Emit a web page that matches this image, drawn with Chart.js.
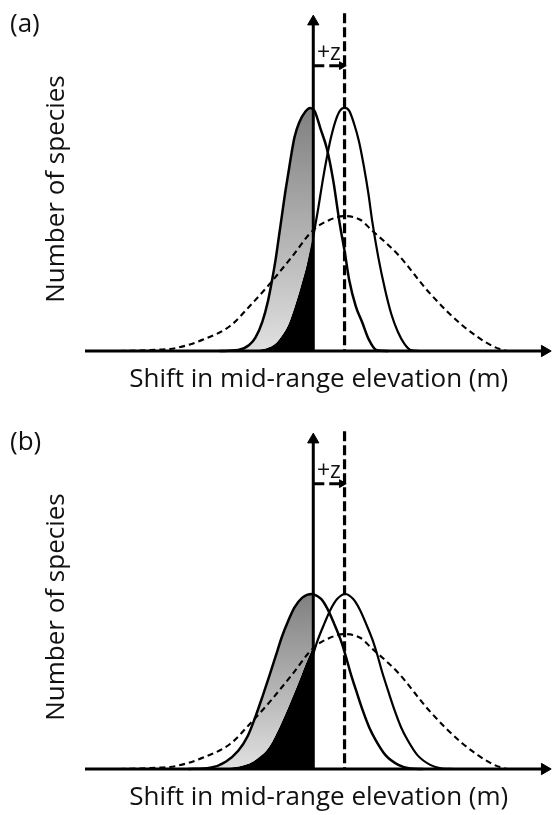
<!DOCTYPE html>
<html><head><meta charset="utf-8">
<script src="https://cdn.jsdelivr.net/npm/chart.js@4.4.1/dist/chart.umd.min.js"></script>
<style>
html,body{margin:0;padding:0;background:#fff;overflow:hidden;}
#wrap{position:relative;width:560px;height:815px;}
canvas{position:absolute;left:0;}
</style></head><body>
<div id="wrap">
<canvas id="chartA" width="560" height="417" style="top:0;width:560px;height:417px"></canvas>
<canvas id="chartB" width="560" height="397" style="top:418px;width:560px;height:397px"></canvas>
</div>
<script>
// ---------- texts ----------
const panelLabels = ['(a)', '(b)'];
const xTitle = 'Shift in mid-range elevation (m)';
const yTitle = 'Number of species';
const zLabel = '+z';

// ---------- shift z and axis extents (data units) ----------
const shiftZ = 10;
const axisXRange = [-73, 74];
const axisYTop = 135.5;
const zLineTop = 139;
const zArrowY = 117.4;
const zArrowEnd = 9.1;
const zLabelY = 119.6;

// ---------- dashed curve (same in both panels) ----------
const dashedX = [-62, -52, -44, -35, -26.5, -20.3, -14, -7, 0, 5, 10, 15, 18.6, 27, 37.3, 47.8, 58, 62];
const dashedY = [0, 0.4, 1.2, 4.8, 10.4, 18.5, 27.5, 38.5, 49.8, 53.8, 55.5, 54, 49.8, 39.8, 23.7, 10.4, 1.6, 0];

// ---------- panel (a) ----------
const aLeftX = [-30, -24, -20.5, -18.5, -16.3, -14.5, -13.2, -12, -11, -10, -9, -8, -7, -6, -4.5, -2.5, -1, 0, 0.5, 2.3, 4.4, 6.4, 8.5, 10, 11.5, 13.6, 15.7, 17.7, 20.3, 24];
const aLeftY = [0, 0.4, 2.5, 5.5, 12, 20.5, 29, 38, 47, 56, 65, 73, 81, 88, 94, 98.5, 100, 99.3, 98.5, 91.5, 83, 70, 52, 41.2, 29.1, 18.4, 11.6, 4.9, 0.3, 0];
const aRightX = [-14, -11, -9, -7, -5, -3, -1, 0, 1.5, 3, 4.4, 5.7, 7.2, 8.5, 10, 11.5, 13.1, 14.6, 16.1, 17.6, 18.9, 20.8, 23, 25, 27, 29.1, 31.1, 34];
const aRightY = [0, 0.5, 3, 8.5, 16, 26.5, 40, 47, 58, 70, 80, 88, 95, 98.8, 100, 98.8, 93.3, 86.3, 76.5, 65, 53, 38.5, 25, 15, 8, 3, 0.4, 0];
const aInnerX = [-30, -20, -16, -14, -12, -10, -8, -6, -4, -2, 0];
const aInnerY = [0, 0.2, 0.8, 1.6, 3.2, 6.4, 10.8, 18, 26.5, 36, 47.8];

// ---------- panel (b) ----------
const bLeftX = [-40, -33, -28, -24, -21, -18.5, -16.2, -14, -12, -10, -8, -6, -3.5, -0.5, 0, 2.5, 4.5, 6.6, 8.7, 10.2, 11.8, 13.8, 15.9, 17.9, 20, 23.1, 27.2, 31, 35];
const bLeftY = [0, 0.5, 3, 7.5, 13.5, 21.5, 30, 38.5, 46.5, 54.5, 61, 66.5, 70.5, 72, 71.9, 70, 66, 60, 53.3, 47.3, 40, 31.9, 23.8, 17.1, 11.8, 5.7, 1.7, 0.2, 0];
const bRightX = [-21, -17, -13, -9.8, -7.7, -5.7, -3.6, -1.6, 0, 1.5, 3.6, 5.7, 7.7, 10.2, 12.7, 14.7, 16.8, 18.9, 20.4, 22, 24, 26.1, 28.1, 30.2, 33.3, 37.4, 41.2, 45];
const bRightY = [0, 1.7, 5.7, 11.8, 17.1, 23.8, 31.9, 40, 47.3, 53.3, 60, 66, 70, 72, 70, 66, 60, 53.3, 47.3, 40, 31.9, 23.8, 17.1, 11.8, 5.7, 1.7, 0.2, 0];
const bInnerX = [-40, -30, -25, -22, -19, -17, -15, -13, -10, -7, -4, -2, 0];
const bInnerY = [0, 0.2, 0.8, 1.6, 3.3, 5.2, 7.6, 11.5, 19.5, 28.5, 38, 44.5, 50.5];

Chart.defaults.font.family = "'Open Sans', sans-serif";
Chart.defaults.color = '#111';

const pts = (xs, ys) => xs.map((x, i) => ({x: x, y: ys[i]}));

const textPlugin = {
  id: 'panelText',
  afterDraw(chart, args, opts) {
    const {ctx, scales} = chart;
    ctx.save();
    ctx.fillStyle = '#111';
    ctx.font = "26px 'Open Sans'";
    ctx.textAlign = 'left';
    ctx.textBaseline = 'alphabetic';
    ctx.fillText(opts.label, 10, 32);
    ctx.font = "23px 'Open Sans'";
    ctx.textAlign = 'center';
    ctx.fillText(zLabel, scales.x.getPixelForValue(shiftZ / 2), scales.y.getPixelForValue(zLabelY));
    ctx.restore();
  }
};

function makePanel(id, label, leftX, leftY, rightX, rightY, innerX, innerY, padBottom) {
  const leftPts = pts(leftX, leftY);
  const peak = Math.max(...leftY);
  const grayFill = function (c) {
    const chart = c.chart;
    if (!chart.chartArea) return '#aaa';
    const y = chart.scales.y;
    const g = chart.ctx.createLinearGradient(0, y.getPixelForValue(peak), 0, y.getPixelForValue(0));
    g.addColorStop(0, '#808080');
    g.addColorStop(1, '#e0e0e0');
    return g;
  };
  const line = {pointRadius: 0, clip: false, fill: false};
  return new Chart(document.getElementById(id), {
    type: 'line',
    data: {
      datasets: [
        Object.assign({}, line, { // 0 gray region (left of axis)
          data: leftPts.filter(p => p.x <= 0), borderWidth: 0, borderColor: 'rgba(0,0,0,0)',
          backgroundColor: grayFill, fill: {target: 1}, cubicInterpolationMode: 'monotone', order: 3
        }),
        Object.assign({}, line, { // 1 black region
          data: pts(innerX, innerY), borderWidth: 0, borderColor: 'rgba(0,0,0,0)',
          backgroundColor: '#000', fill: 'origin', cubicInterpolationMode: 'monotone', order: 4
        }),
        Object.assign({}, line, { // 2 shifted curve
          data: pts(rightX, rightY), borderColor: '#000', borderWidth: 2.2,
          cubicInterpolationMode: 'monotone', order: 5
        }),
        Object.assign({}, line, { // 3 left curve
          data: leftPts, borderColor: '#000', borderWidth: 2.5,
          cubicInterpolationMode: 'monotone', order: 2
        }),
        Object.assign({}, line, { // 4 dashed curve
          data: pts(dashedX, dashedY), borderColor: '#000', borderWidth: 2.1,
          borderDash: [6, 4], cubicInterpolationMode: 'monotone', order: 1
        }),
        Object.assign({}, line, { // 5 dashed z line
          data: [{x: shiftZ, y: zLineTop}, {x: shiftZ, y: 0}], borderColor: '#000',
          borderWidth: 3.2, borderDash: [10, 4], order: 0
        }),
        Object.assign({}, line, { // 6 x axis
          data: [{x: axisXRange[0], y: 0}, {x: axisXRange[1], y: 0}], borderColor: '#000', borderWidth: 3,
          pointRadius: [0, 6.5], pointStyle: 'triangle', pointRotation: 90,
          pointBackgroundColor: '#000', pointBorderColor: '#000', pointBorderWidth: 1, order: 0
        }),
        Object.assign({}, line, { // 7 y axis
          data: [{x: 0, y: 0}, {x: 0, y: axisYTop}], borderColor: '#000', borderWidth: 3,
          pointRadius: [0, 6.5], pointStyle: 'triangle', pointRotation: 0,
          pointBackgroundColor: '#000', pointBorderColor: '#000', pointBorderWidth: 1, order: 0
        }),
        Object.assign({}, line, { // 8 +z arrow
          data: [{x: 0, y: zArrowY}, {x: zArrowEnd, y: zArrowY}], borderColor: '#000', borderWidth: 3,
          borderDash: [11, 5], pointRadius: [0, 4.5], pointStyle: 'triangle', pointRotation: 90,
          pointBackgroundColor: '#000', pointBorderColor: '#000', pointBorderWidth: 1, order: 0
        })
      ]
    },
    options: {
      responsive: false,
      animation: false,
      devicePixelRatio: 1,
      events: [],
      layout: {padding: {top: 27, left: 0, right: 0, bottom: padBottom}},
      plugins: {legend: {display: false}, tooltip: {enabled: false}, panelText: {label: label}},
      scales: {
        x: {
          type: 'linear', min: -73, max: 76.5,
          grid: {display: false}, border: {display: false}, ticks: {display: false},
          title: {display: true, text: xTitle, color: '#111', font: {size: 26, lineHeight: 1.2}, padding: {top: 5.3, bottom: 0}}
        },
        y: {
          type: 'linear', min: 0, max: 133.3,
          grid: {display: false}, border: {display: false}, ticks: {display: false},
          title: {display: true, text: yTitle, color: '#111', font: {size: 26, lineHeight: 1.2}, padding: {top: 41, bottom: 4.8}}
        }
      }
    },
    plugins: [textPlugin]
  });
}

makePanel('chartA', panelLabels[0], aLeftX, aLeftY, aRightX, aRightY, aInnerX, aInnerY, 21.5);
makePanel('chartB', panelLabels[1], bLeftX, bLeftY, bRightX, bRightY, bInnerX, bInnerY, 1.5);
</script>
</body></html>
